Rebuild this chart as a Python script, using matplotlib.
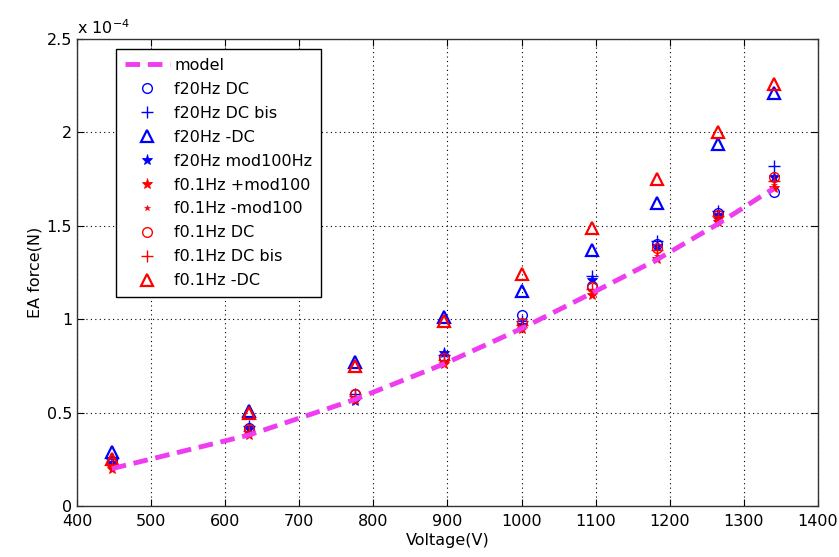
import matplotlib
matplotlib.use("Agg")
import matplotlib.pyplot as plt
from matplotlib.ticker import FuncFormatter, MultipleLocator

plt.rcParams['font.family'] = ['DejaVu Sans']

voltage = [447, 632, 775, 895, 1000, 1095, 1183, 1265, 1340]
model = [0.20, 0.38, 0.57, 0.76, 0.95, 1.14, 1.32, 1.51, 1.70]

f20_dc = [0.24, 0.42, 0.60, 0.80, 1.02, 1.18, 1.40, 1.57, 1.68]
f20_dc_bis = [0.25, 0.43, 0.60, 0.81, 0.99, 1.23, 1.42, 1.58, 1.82]
f20_mdc = [0.29, 0.51, 0.77, 1.01, 1.15, 1.37, 1.62, 1.94, 2.21]
f20_mod = [0.23, 0.41, 0.56, 0.82, 0.97, 1.21, 1.39, 1.56, 1.76]
f01_pmod = [0.20, 0.38, 0.57, 0.76, 0.95, 1.13, 1.32, 1.52, 1.70]
f01_mmod = [0.21, 0.39, 0.58, 0.77, 0.96, 1.15, 1.34, 1.54, 1.72]
f01_dc = [0.23, 0.41, 0.60, 0.79, 0.98, 1.17, 1.38, 1.56, 1.76]
f01_dc_bis = [0.22, 0.40, 0.59, 0.78, 0.97, 1.16, 1.37, 1.55, 1.74]
f01_mdc = [0.25, 0.50, 0.75, 0.99, 1.24, 1.49, 1.75, 2.00, 2.26]

labels = ["model", "f20Hz DC", "f20Hz DC bis", "f20Hz -DC", "f20Hz mod100Hz",
          "f0.1Hz +mod100", "f0.1Hz -mod100", "f0.1Hz DC", "f0.1Hz DC bis", "f0.1Hz -DC"]

fig = plt.figure(figsize=(8.39, 5.57), dpi=100)
ax = fig.add_axes([77/839, 51/557, 741/839, 467/557])

blue = '#0000ff'
red = '#ff0000'
ax.plot(voltage, model, '--', color='#f03cf0', lw=3.5, dashes=(3, 1.6), label=labels[0], zorder=3)
ax.plot(voltage, f20_dc, 'o', mfc='none', mec=blue, ms=7, mew=1, label=labels[1])
ax.plot(voltage, f20_dc_bis, '+', color=blue, ms=9, mew=1, label=labels[2])
ax.plot(voltage, f20_mdc, '^', mfc='none', mec=blue, ms=8, mew=1.6, label=labels[3])
ax.plot(voltage, f20_mod, '*', color=blue, ms=8, mew=0.6, label=labels[4])
ax.plot(voltage, f01_pmod, '*', color=red, ms=8, mew=0.6, label=labels[5])
ax.plot(voltage, f01_mmod, '*', color=red, ms=4, mew=0.4, label=labels[6])
ax.plot(voltage, f01_dc, 'o', mfc='none', mec=red, ms=7, mew=1, label=labels[7])
ax.plot(voltage, f01_dc_bis, '+', color=red, ms=9, mew=1, label=labels[8])
ax.plot(voltage, f01_mdc, '^', mfc='none', mec=red, ms=8, mew=1.6, label=labels[9])

ax.set_xlim(400, 1400)
ax.set_ylim(0, 2.5)
ax.xaxis.set_major_locator(MultipleLocator(100))
ax.yaxis.set_major_locator(MultipleLocator(0.5))
ax.yaxis.set_major_formatter(FuncFormatter(lambda v, p: '%g' % v))
ax.grid(True, color='black', linestyle=(0, (1, 3)), lw=0.8)
ax.tick_params(direction='in', length=5, labelsize=11.5, top=True, right=True)
ax.tick_params(axis='x', pad=6)
ax.tick_params(axis='y', pad=3.5)
for s in ax.spines.values():
    s.set_color('#333333')
    s.set_linewidth(1)

ax.set_xlabel('Voltage(V)', fontsize=11.5, labelpad=3)
ax.set_ylabel('EA force(N)', fontsize=11.5, labelpad=3)
ax.text(0.0, 1.005, 'x 10$^{-4}$', transform=ax.transAxes, fontsize=11.5, ha='left', va='bottom')

leg = ax.legend(loc='upper left', bbox_to_anchor=((116-77)/741, (506-49)/467), borderaxespad=0,
                fancybox=False, framealpha=1, edgecolor='black', fontsize=11.5,
                handlelength=2.8, labelspacing=0.56, handletextpad=0.3, borderpad=0.55)
leg.get_frame().set_linewidth(1)

fig.savefig('out.png', dpi=100)
